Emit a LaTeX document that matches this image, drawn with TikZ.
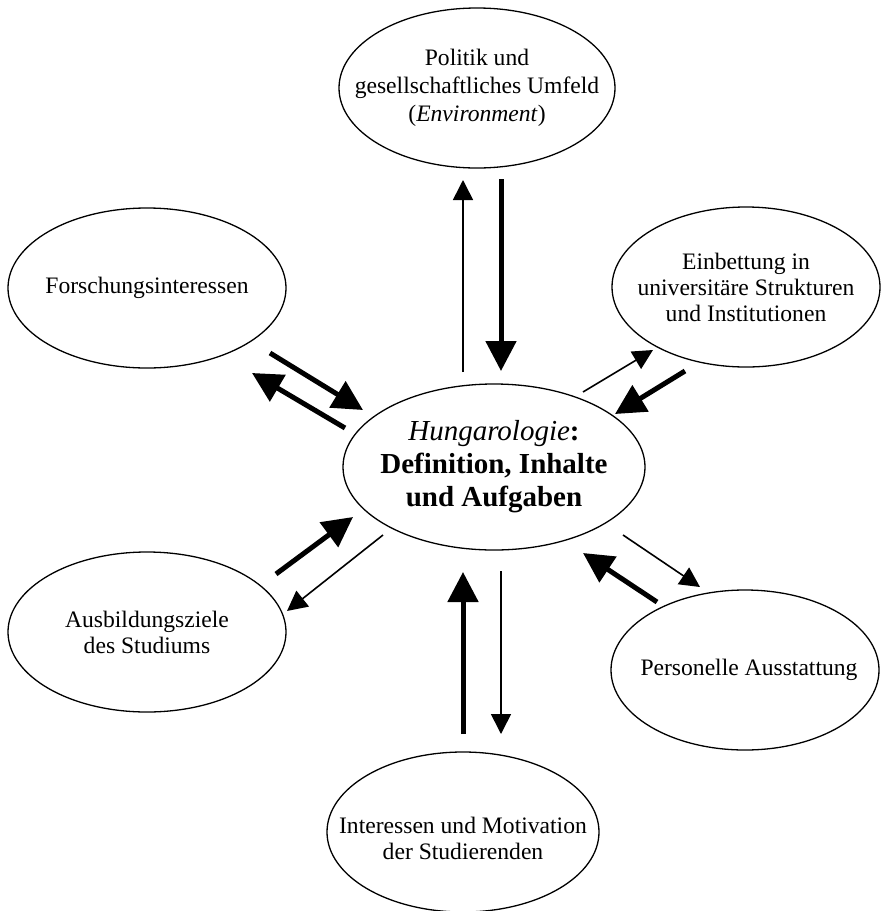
\documentclass[tikz,border=0pt]{standalone}
\usepackage{fontspec}
\setmainfont{Liberation Serif}
\usetikzlibrary{arrows.meta,calc}

\tikzset{
	topic/.style={align=center,inner sep=0pt,font=\fontsize{11.8}{13}\selectfont},
	rim/.style={line width=0.65pt},
	thickarr/.style={line width=2.5pt,-{Triangle[length=15pt,width=15pt]}},
	thinarr/.style={line width=0.8pt,-{Triangle[length=10pt,width=10pt]}}
}

\begin{document}
\begin{tikzpicture}[x=0.5pt,y=-0.5pt]
				\useasboundingbox (0,0) rectangle (880,911);
				\node[topic,font=\fontsize{14.5}{16.5}\selectfont\bfseries] (hub) at (494,467) {\textit{\mdseries Hungarologie}:\\Definition, Inhalte\\und Aufgaben};
				\node[topic,font=\fontsize{11.8}{14}\selectfont] (politik) at (477,88) {Politik und\\gesellschaftliches Umfeld\\(\textit{Environment})};
				\node[topic] (forschung) at (147,288) {Forschungsinteressen};
				\node[topic] (einbettung) at (746,287) {Einbettung in\\universitäre Strukturen\\und Institutionen};
				\node[topic] (ausbildung) at (147,632) {Ausbildungsziele\\des Studiums};
				\node[topic] (personelle) at (749,670) {Personelle Ausstattung};
				\node[topic] (interessen) at (463,838) {Interessen und Motivation\\der Studierenden};
				\draw[rim] (hub) ellipse (151 and 83);
				\draw[rim] (politik) ellipse (138 and 80);
				\draw[rim] (forschung) ellipse (139 and 80);
				\draw[rim] (einbettung) ellipse (134 and 80);
				\draw[rim] (ausbildung) ellipse (139 and 80);
				\draw[rim] ($(personelle)+(-4,0)$) ellipse (134 and 80);
				\draw[rim] ($(interessen)+(0,-6)$) ellipse (136 and 80);
				\coordinate (p1) at ($(hub)+(-31,-95)$);
				\coordinate (p2) at ($(politik)+(-14,92)$);
				\coordinate (p3) at ($(politik)+(24,91)$);
				\coordinate (p4) at ($(hub)+(7,-96)$);
				\coordinate (f1) at ($(forschung)+(123,65)$);
				\coordinate (f2) at ($(hub)+(-131,-57)$);
				\coordinate (f3) at ($(hub)+(-149,-39)$);
				\coordinate (f4) at ($(forschung)+(105,85)$);
				\coordinate (e1) at ($(hub)+(89,-75)$);
				\coordinate (e2) at ($(einbettung)+(-93,63)$);
				\coordinate (e3) at ($(einbettung)+(-61,84)$);
				\coordinate (e4) at ($(hub)+(121,-53)$);
				\coordinate (a1) at ($(ausbildung)+(129,-58)$);
				\coordinate (a2) at ($(hub)+(-141,50)$);
				\coordinate (a3) at ($(hub)+(-111,68)$);
				\coordinate (a4) at ($(ausbildung)+(140,-21)$);
				\coordinate (i1) at ($(interessen)+(0,-104)$);
				\coordinate (i2) at ($(hub)+(-31,105)$);
				\coordinate (i3) at ($(hub)+(7,104)$);
				\coordinate (i4) at ($(interessen)+(38,-104)$);
				\coordinate (s1) at ($(hub)+(129,68)$);
				\coordinate (s2) at ($(personelle)+(-49,-83)$);
				\coordinate (s3) at ($(personelle)+(-92,-68)$);
				\coordinate (s4) at ($(hub)+(89,86)$);
				\draw[thinarr] (p1) -- (p2);
				\draw[thickarr] (p3) -- (p4);
				\draw[thickarr] (f1) -- (f2);
				\draw[thickarr] (f3) -- (f4);
				\draw[thinarr] (e1) -- (e2);
				\draw[thickarr] (e3) -- (e4);
				\draw[thickarr] (a1) -- (a2);
				\draw[thinarr] (a3) -- (a4);
				\draw[thickarr] (i1) -- (i2);
				\draw[thinarr] (i3) -- (i4);
				\draw[thinarr] (s1) -- (s2);
				\draw[thickarr] (s3) -- (s4);
\end{tikzpicture}
\end{document}
